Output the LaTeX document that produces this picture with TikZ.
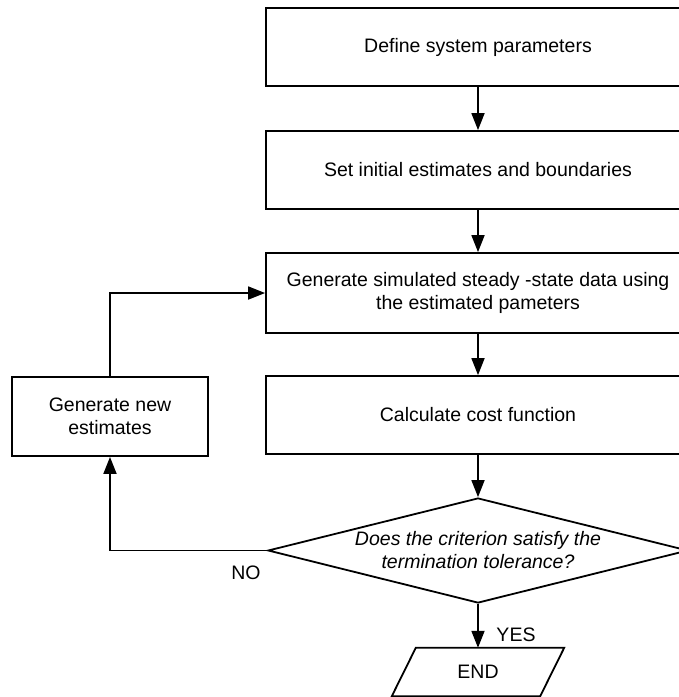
\documentclass[tikz,border=0pt]{standalone}
\usepackage{fontspec}
\setmainfont{Liberation Sans}
\usetikzlibrary{arrows.meta,shapes.geometric}
\begin{document}
\begin{tikzpicture}[x=1pt,y=-1pt,
  every node/.style={font=\fontsize{19.5}{23}\selectfont},
  box/.style={draw,line width=1.8pt,rectangle,align=center,inner sep=0pt,minimum width=424pt},
  dec/.style={draw,line width=1.8pt,diamond,aspect=4,inner sep=0pt,minimum width=420pt,minimum height=105pt,align=center,font=\fontsize{19.5}{23}\selectfont\itshape},
  arr/.style={line width=1.8pt,-{Triangle[length=17pt,width=13pt]}},
  lbl/.style={inner sep=0pt}]
\useasboundingbox (0,0) rectangle (679,697);
\clip (0,0) rectangle (679,697);
\fill[white] (0,0) rectangle (679,697);
\node[box,minimum height=78pt] (b1) at (478,47) {Define system parameters};
\node[box,minimum height=78pt] (b2) at (478,170) {Set initial estimates and boundaries};
\node[box,minimum height=80pt] (b3) at (478,293) {Generate simulated steady -state data using\\the estimated pameters};
\node[box,minimum height=78pt] (b4) at (478,415) {Calculate cost function};
\node[dec] (d) at (478,550.5) {Does the criterion satisfy the\\termination tolerance?};
\node[box,minimum width=196pt,minimum height=79pt] (g) at (110,416.5) {Generate new\\estimates};
\node[lbl,minimum width=148pt,minimum height=48pt] (e) at (478,672) {END};
\draw[line width=1.8pt,line join=miter] ([xshift=12pt]e.north west) -- ([xshift=12pt]e.north east) -- ([xshift=-12pt]e.south east) -- ([xshift=-12pt]e.south west) -- cycle;
\draw[arr] (b1) -- (b2);
\draw[arr] (b2) -- (b3);
\draw[arr] (b3) -- (b4);
\draw[arr] (b4) -- (d.north);
\draw[arr] (d.south) -- (e.north);
\draw[arr] (d.west) -| (g.south);
\draw[arr] (g.north) |- (b3.west);
\node[lbl] (no) at (246,573) {NO};
\node[lbl] (yes) at (516,635) {YES};
\end{tikzpicture}
\end{document}
